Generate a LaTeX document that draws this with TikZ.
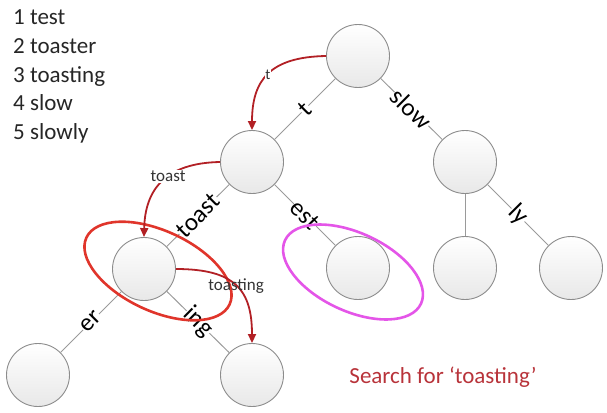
\documentclass[tikz,border=0pt]{standalone}
\usepackage{fontspec}
\setmainfont{Carlito}
\usetikzlibrary{shapes.geometric,arrows.meta}
\definecolor{arrowred}{HTML}{B22025}
\definecolor{ringred}{HTML}{E0352B}
\definecolor{ringmag}{HTML}{E455E8}
\definecolor{edgegray}{HTML}{9A9A9A}
\definecolor{textred}{HTML}{B8333A}
\begin{document}
\begin{tikzpicture}[x=1pt,y=-1pt,
  trienode/.style={circle, draw=black!45, line width=0.9pt, minimum size=63pt, inner sep=0pt, top color=white, bottom color=black!9},
  trieedge/.style={draw=edgegray, line width=1pt},
  elabel/.style={sloped, fill=white, inner sep=0.5pt, font=\fontsize{25}{25}\selectfont, text=black},
  walk/.style={draw=arrowred, line width=1.8pt, -{Triangle[length=9pt,width=8pt]}},
  plabel/.style={fill=white, inner sep=1pt, font=\fontsize{17}{17}\selectfont, text=black!80},
  tinylabel/.style={fill=white, inner sep=0.5pt, font=\fontsize{15}{15}\selectfont, text=black!80},
  listtext/.style={anchor=base west, font=\fontsize{23}{23}\selectfont, text=black!85, inner sep=0pt},
  hilite/.style={ellipse, draw, line width=2.6pt, inner sep=0pt}]
\useasboundingbox (0,0) rectangle (607,412);

% list
\node[listtext] (w1) at (13,25) {1 test};
\node[listtext] (w2) at (13,53.5) {2 toaster};
\node[listtext] (w3) at (13,82) {3 toasting};
\node[listtext] (w4) at (13,110.5) {4 slow};
\node[listtext] (w5) at (13,139) {5 slowly};

% trie nodes
\node[trienode] (root) at (358,56) {};
\node[trienode] (nt) at (252,162) {};
\node[trienode] (ns) at (465,162) {};
\node[trienode] (ntoast) at (144,269) {};
\node[trienode] (nest) at (358,268) {};
\node[trienode] (nslow) at (465,268) {};
\node[trienode] (nsly) at (571,268) {};
\node[trienode] (ner) at (38,375) {};
\node[trienode] (ning) at (252,375) {};

% edges
\draw[trieedge] (root) -- node[elabel] {t} (nt);
\draw[trieedge] (root) -- node[elabel] {slow} (ns);
\draw[trieedge] (nt) -- node[elabel] {toast} (ntoast);
\draw[trieedge] (nt) -- node[elabel] {est} (nest);
\draw[trieedge] (ntoast) -- node[elabel] {er} (ner);
\draw[trieedge] (ntoast) -- node[elabel] {ing} (ning);
\draw[trieedge] (ns) -- (nslow);
\draw[trieedge] (ns) -- node[elabel] {ly} (nsly);

% highlight rings
\node[hilite, draw=ringred, minimum width=158pt, minimum height=80pt, rotate=-25] (redring) at (158,271) {};
\node[hilite, draw=ringmag, minimum width=150pt, minimum height=78pt, rotate=-25] (magring) at (353,272) {};

% search path
\draw[walk] (root.west) .. controls (270,57) and (252,80) .. node[pos=0.5, tinylabel] {t} (nt.north);
\draw[walk] (nt.west) .. controls (165,163) and (145,190) .. node[pos=0.42, plabel] {toast} (ntoast.north);
\draw[walk] (ntoast.east) .. controls (235,269) and (252,290) .. node[pos=0.5, plabel, fill=none] {toasting} (ning.north);

% caption
\node[font=\fontsize{23}{23}\selectfont, text=textred] (caption) at (443,377) {Search for ‘toasting’};
\end{tikzpicture}
\end{document}
